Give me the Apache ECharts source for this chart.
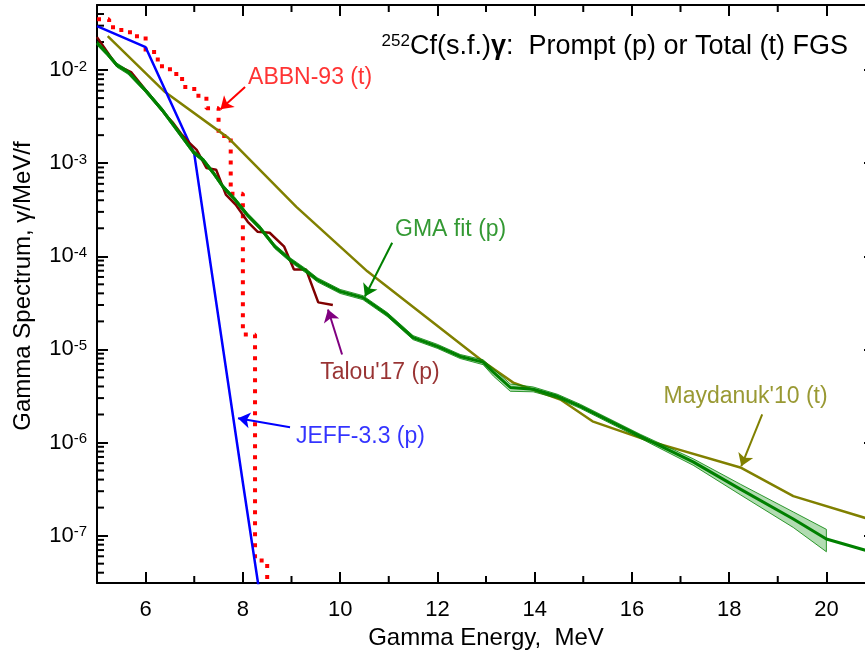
<!DOCTYPE html>
<html>
<head>
<meta charset="utf-8">
<script src="https://cdn.jsdelivr.net/npm/echarts@6/dist/echarts.min.js"></script>
<style>
html, body { margin: 0; padding: 0; background: #fff; }
#chart { width: 865px; height: 650px; }
</style>
</head>
<body>
<div id="chart"></div>
<script>
// gamma energy in MeV, spectrum in gamma/MeV/fission

// GMA fit (p), with relative uncertainty of the band (%)
var gmaE   = [5.0, 5.2, 5.41, 5.64, 5.99, 6.34, 6.6, 6.98, 7.18, 7.39, 7.59, 7.84, 8.09, 8.35, 8.66, 8.97, 9.32, 9.53, 10.0, 10.47, 10.97, 11.5, 12.0, 12.47, 12.94, 13.15, 13.5, 13.97, 14.47, 14.94, 16.17, 17.26, 18.23, 19.32, 20.0, 21.0];
var gmaVal = [1.95e-2, 1.52e-2, 1.13e-2, 9.5e-3, 6.1e-3, 3.73e-3, 2.45e-3, 1.32e-3, 1.09e-3, 7.9e-4, 5.6e-4, 4.05e-4, 2.79e-4, 2.03e-4, 1.27e-4, 9.2e-5, 6.85e-5, 5.6e-5, 4.2e-5, 3.6e-5, 2.37e-5, 1.34e-5, 1.08e-5, 8.4e-6, 7.3e-6, 5.7e-6, 3.9e-6, 3.73e-6, 3.14e-6, 2.45e-6, 1.17e-6, 6.2e-7, 3.16e-7, 1.51e-7, 9.2e-8, 6.5e-8];
var gmaUnc = [5, 5, 5, 5, 5, 5, 5, 5, 5, 5, 5, 5, 5, 5, 5, 5, 5, 5, 5, 5, 5, 5, 5, 5, 6, 9, 9, 6, 5, 5, 5, 8, 13, 19, 27, null];

// Talou'17 (p)
var talouE   = [5.0, 5.4, 5.7, 6.0, 6.45, 6.55, 6.75, 6.9, 7.05, 7.25, 7.45, 7.65, 7.85, 8.1, 8.3, 8.55, 8.85, 9.05, 9.3, 9.55, 9.85];
var talouVal = [2.26e-2, 1.13e-2, 9.5e-3, 6.1e-3, 3.14e-3, 2.77e-3, 2.01e-3, 1.65e-3, 1.39e-3, 8.9e-4, 8.5e-4, 4.6e-4, 3.6e-4, 2.35e-4, 1.84e-4, 1.79e-4, 1.27e-4, 7.2e-5, 7.2e-5, 3.2e-5, 3.0e-5];

// JEFF-3.3 (p)
var jeffE   = [5.0, 6.0, 7.0, 8.0, 9.0];
var jeffVal = [2.96e-2, 1.76e-2, 1.26e-3, 3.7e-7, 1.3e-10];

// ABBN-93 (t), group values (left edge of each 0.25 MeV group)
var abbnE   = [5.0, 5.25, 5.5, 5.75, 6.0, 6.25, 6.5, 6.75, 7.0, 7.25, 7.5, 7.75, 8.0, 8.25, 8.5, 8.75];
var abbnVal = [3.52e-2, 2.89e-2, 2.55e-2, 2.31e-2, 1.56e-2, 1.10e-2, 9.1e-3, 6.6e-3, 5.3e-3, 3.9e-3, 1.96e-3, 4.7e-4, 1.45e-5, 5.4e-8, 1e-9, 1e-9];

// Maydanuk'10 (t)
var maydE   = [5.22, 6.4, 7.7, 9.1, 10.0, 10.56, 12.94, 13.56, 14.53, 15.19, 16.38, 18.23, 19.32, 21.0];
var maydVal = [2.31e-2, 5.8e-3, 1.87e-3, 3.4e-4, 1.27e-4, 6.9e-5, 7.4e-6, 4.4e-6, 2.9e-6, 1.69e-6, 1.03e-6, 5.4e-7, 2.66e-7, 1.44e-7];

// axes
var xMin = 5, xMax = 21;
var yMin = 3.1e-8, yMax = 5e-2;
var xMinorTicks = [7, 9, 11, 13, 15, 17, 19];

var FONT = 'Liberation Sans, Arial, sans-serif';

function pairs(xs, ys) {
	var out = [];
	for (var i = 0; i < xs.length; i++) {
		out.push([xs[i], ys[i]]);
	}
	return out;
}

// minor ticks of the log axis: 2..9 x 10^n inside the range
var yMinorTicks = [];
for (var n = -8; n <= -2; n++) {
	for (var k = 2; k <= 9; k++) {
		var t = k * Math.pow(10, n);
		if (t > yMin && t < yMax) {
			yMinorTicks.push(t);
		}
	}
}

var chart = echarts.init(document.getElementById('chart'));

function logLabel(value) {
	var lg = Math.log10(value);
	var e = Math.round(lg);
	if (Math.abs(lg - e) > 1e-6) {
		return '';
	}
	return '{b|10}{s|' + e + '}';
}

// band of the GMA fit
function renderBand(params, api) {
	if (params.dataIndex !== 0) {
		return;
	}
	var upper = [], lower = [];
	for (var i = 0; i < gmaE.length; i++) {
		if (gmaUnc[i] == null) continue;
		var u = gmaUnc[i] / 100;
		upper.push(api.coord([gmaE[i], gmaVal[i] * (1 + u)]));
		lower.unshift(api.coord([gmaE[i], gmaVal[i] * (1 - u)]));
	}
	return {
		type: 'polygon',
		shape: { points: upper.concat(lower) },
		style: { fill: 'rgba(0,140,0,0.3)', stroke: '#008000', lineWidth: 0.8 }
	};
}

var axisCommon = {
	type: 'value',
	min: xMin,
	max: xMax,
	splitNumber: 8,
	axisLine: { lineStyle: { color: '#000', width: 2 } },
	axisTick: { inside: true, length: 11, lineStyle: { color: '#000', width: 2 } },
	splitLine: { show: false }
};

var yCommon = {
	type: 'log',
	logBase: 10,
	min: yMin,
	max: yMax,
	axisLine: { lineStyle: { color: '#000', width: 2 } },
	axisTick: { inside: true, length: 11, lineStyle: { color: '#000', width: 2 } },
	splitLine: { show: false }
};

var option = {
	animation: false,
	backgroundColor: '#fff',
	title: {
		right: 12,
		top: 28,
		text: '{sup|252}{m|Cf(s.f.)}{g|γ}{m|:  Prompt (p) or Total (t) FGS}',
		textStyle: {
			fontWeight: 'normal',
			rich: {
				sup: { fontSize: 17, fontFamily: FONT, color: '#000', fontWeight: 'normal', verticalAlign: 'top', padding: [0, 0, 10, 0] },
				m: { fontSize: 27, fontFamily: FONT, color: '#000', fontWeight: 'normal' },
				g: { fontSize: 27, fontFamily: FONT, color: '#000', fontWeight: 'bold' }
			}
		}
	},
	grid: { left: 97, top: 5, width: 778, height: 578, containLabel: false, outerBoundsMode: 'none' },
	xAxis: [
		Object.assign({}, axisCommon, {
			position: 'bottom',
			name: 'Gamma Energy,  MeV',
			nameLocation: 'middle',
			nameGap: 43,
			nameTextStyle: { fontSize: 24, fontFamily: FONT, color: '#000' },
			axisLabel: {
				margin: 16,
				fontSize: 22,
				fontFamily: FONT,
				color: '#000',
				formatter: function(v) { return v % 2 === 0 ? String(v) : ''; }
			}
		}),
		Object.assign({}, axisCommon, {
			position: 'top',
			axisLabel: { show: false }
		})
	],
	yAxis: [
		Object.assign({}, yCommon, {
			position: 'left',
			name: 'Gamma Spectrum, γ/MeV/f',
			nameLocation: 'middle',
			nameGap: 62,
			nameTextStyle: { fontSize: 24, fontFamily: FONT, color: '#000', padding: [0, 0, 0, 16] },
			axisLabel: {
				margin: 10,
				formatter: logLabel,
				rich: {
					b: { fontSize: 22, fontFamily: FONT, color: '#000' },
					s: { fontSize: 15, fontFamily: FONT, color: '#000', verticalAlign: 'top' }
				}
			}
		}),
		Object.assign({}, yCommon, {
			position: 'right',
			axisLabel: { show: false }
		})
	],
	series: [
		{
			name: 'ABBN-93 (t)',
			type: 'line',
			step: 'end',
			data: pairs(abbnE, abbnVal),
			showSymbol: false,
			clip: true,
			z: 2,
			lineStyle: { color: '#ff0000', width: 4, type: [4, 7] }
		},
		{
			name: "Maydanuk'10 (t)",
			type: 'line',
			data: pairs(maydE, maydVal),
			showSymbol: false,
			clip: true,
			z: 3,
			lineStyle: { color: '#808000', width: 2.5 }
		},
		{
			name: 'JEFF-3.3 (p)',
			type: 'line',
			data: pairs(jeffE, jeffVal),
			showSymbol: false,
			clip: true,
			z: 4,
			lineStyle: { color: '#0000ff', width: 2.5 }
		},
		{
			name: "Talou'17 (p)",
			type: 'line',
			data: pairs(talouE, talouVal),
			showSymbol: false,
			clip: true,
			z: 5,
			lineStyle: { color: '#800000', width: 2.5 }
		},
		{
			name: 'GMA band',
			type: 'custom',
			renderItem: renderBand,
			data: pairs(gmaE, gmaVal),
			clip: true,
			z: 6,
			silent: true
		},
		{
			name: 'GMA fit (p)',
			type: 'line',
			data: pairs(gmaE, gmaVal),
			showSymbol: false,
			clip: true,
			z: 7,
			lineStyle: { color: '#008000', width: 3 }
		},
		{
			// labels and arrows pointing at the curves
			name: 'notes',
			type: 'scatter',
			symbolSize: 0,
			silent: true,
			z: 8,
			label: {
				show: true,
				position: 'right',
				distance: 0,
				fontSize: 23,
				fontFamily: FONT,
				formatter: function(p) { return p.data.text; }
			},
			data: [
				{ value: [8.107, 8.2e-3], text: 'ABBN-93 (t)', label: { color: '#ff0000' } },
				{ value: [11.13, 1.93e-4], text: 'GMA fit (p)', label: { color: '#008000' } },
				{ value: [9.59, 5.68e-6], text: "Talou'17 (p)", label: { color: '#800000' } },
				{ value: [9.09, 1.17e-6], text: 'JEFF-3.3 (p)', label: { color: '#0000ff' } },
				{ value: [16.65, 3.13e-6], text: "Maydanuk'10 (t)", label: { color: '#808000' } }
			],
			markLine: {
				silent: true,
				symbol: ['none', 'arrow'],
				symbolSize: 12,
				label: { show: false },
				data: [
					[{ coord: [8.045, 6.58e-3], lineStyle: { color: '#ff0000', width: 2, type: 'solid' }, itemStyle: { color: '#ff0000' } }, { coord: [7.54, 3.8e-3] }],
					[{ coord: [11.07, 1.40e-4], lineStyle: { color: '#008000', width: 2, type: 'solid' }, itemStyle: { color: '#008000' } }, { coord: [10.51, 3.7e-5] }],
					[{ coord: [10.04, 8.83e-6], lineStyle: { color: '#800080', width: 2, type: 'solid' }, itemStyle: { color: '#800080' } }, { coord: [9.75, 2.68e-5] }],
					[{ coord: [8.97, 1.46e-6], lineStyle: { color: '#0000ff', width: 2, type: 'solid' }, itemStyle: { color: '#0000ff' } }, { coord: [7.90, 1.82e-6] }],
					[{ coord: [18.68, 2.01e-6], lineStyle: { color: '#808000', width: 2, type: 'solid' }, itemStyle: { color: '#808000' } }, { coord: [18.25, 5.57e-7] }]
				]
			}
		}
	]
};

chart.setOption(option);

// minor ticks on all four sides, placed through the chart's own scales
var finder = { xAxisIndex: 0, yAxisIndex: 0 };
var tickLines = [];
function tickLine(x1, y1, x2, y2) {
	tickLines.push({
		type: 'line',
		shape: { x1: x1, y1: y1, x2: x2, y2: y2 },
		style: { stroke: '#000', lineWidth: 2 }
	});
}
yMinorTicks.forEach(function(val) {
	var a = chart.convertToPixel(finder, [xMin, val]);
	var b = chart.convertToPixel(finder, [xMax, val]);
	tickLine(a[0], a[1], a[0] + 7, a[1]);
	tickLine(b[0] - 7, b[1], b[0], b[1]);
});
xMinorTicks.forEach(function(val) {
	var c = chart.convertToPixel(finder, [val, yMin]);
	var d = chart.convertToPixel(finder, [val, yMax]);
	tickLine(c[0], c[1], c[0], c[1] - 7);
	tickLine(d[0], d[1], d[0], d[1] + 7);
});
chart.setOption({ graphic: { elements: tickLines } });
</script>
</body>
</html>
